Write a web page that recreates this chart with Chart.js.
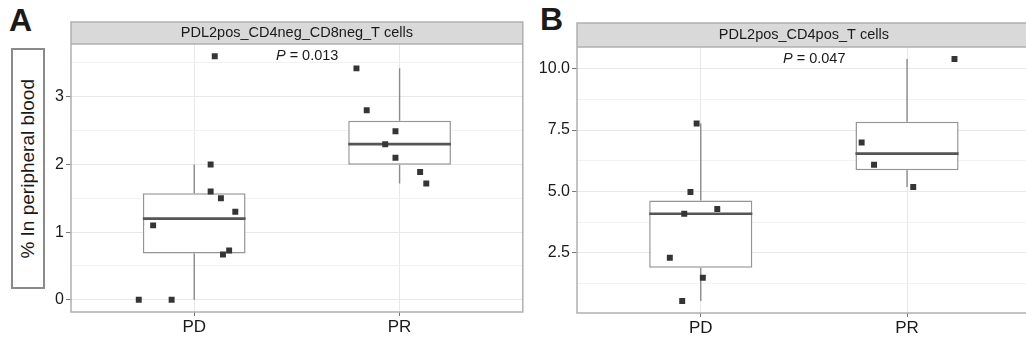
<!DOCTYPE html>
<html>
<head>
<meta charset="utf-8">
<script src="https://cdn.jsdelivr.net/npm/chart.js@4"></script>
<style>
  body { margin: 0; width: 1026px; height: 343px; overflow: hidden; background: #fff; position: relative; font-family: "Liberation Sans", Arial, sans-serif; }
  canvas { position: absolute; top: 0; }
  .tag { position: absolute; font-weight: bold; font-size: 32px; color: #1a1a1a; line-height: 1; }
  .ylab { position: absolute; left: 11px; top: 48px; width: 34px; height: 241px; box-sizing: border-box;
          border: 2px solid #8a8a8a; display: flex; align-items: center; justify-content: center; }
  .ylab span { writing-mode: vertical-rl; transform: rotate(180deg); font-size: 19px; color: #1a1a1a; white-space: nowrap; }
</style>
</head>
<body>
<div class="tag" style="left:9px;top:4px">A</div>
<div class="tag" style="left:540px;top:3px">B</div>
<div class="ylab"><span>% In peripheral blood</span></div>
<canvas id="chartA" width="481" height="343" style="left:46px"></canvas>
<canvas id="chartB" width="497" height="343" style="left:538px"></canvas>
<script>
// groups on the x axis
const groups = ["PD", "PR"]

// panel A: PDL2pos_CD4neg_CD8neg_T cells
const aTitle = "PDL2pos_CD4neg_CD8neg_T cells"
const aPValue = "0.013"
const aPD = [0.0, 0.0, 3.6, 2.0, 1.6, 1.5, 1.3, 1.1, 0.73, 0.67]
const aPDJitter = [-0.27, -0.11, 0.10, 0.08, 0.08, 0.13, 0.20, -0.20, 0.17, 0.14]
const aPR = [3.42, 2.80, 2.49, 2.30, 2.10, 1.89, 1.72]
const aPRJitter = [-0.21, -0.16, -0.02, -0.07, -0.02, 0.10, 0.13]
const aYTicks = [0, 1, 2, 3]
const aYLabels = ["0", "1", "2", "3"]

// panel B: PDL2pos_CD4pos_T cells
const bTitle = "PDL2pos_CD4pos_T cells"
const bPValue = "0.047"
const bPD = [7.77, 4.98, 4.09, 4.28, 2.30, 1.48, 0.54]
const bPDJitter = [-0.02, -0.05, -0.08, 0.08, -0.15, 0.01, -0.09]
const bPR = [10.39, 6.99, 6.09, 5.18]
const bPRJitter = [0.23, -0.22, -0.16, 0.03]
const bYTicks = [2.5, 5.0, 7.5, 10.0]
const bYLabels = ["2.5", "5.0", "7.5", "10.0"]

// ggplot-style quantiles (type 7) and whiskers
function quantile(s, p) {
  const h = (s.length - 1) * p
  const lo = Math.floor(h)
  const next = s[lo + 1] !== undefined ? s[lo + 1] : s[lo]
  return s[lo] + (h - lo) * (next - s[lo])
}
function boxStats(vals) {
  const s = [...vals].sort((a, b) => a - b)
  const q1 = quantile(s, 0.25), med = quantile(s, 0.5), q3 = quantile(s, 0.75)
  const iqr = q3 - q1
  const lo = Math.min(...s.filter(v => v >= q1 - 1.5 * iqr))
  const hi = Math.max(...s.filter(v => v <= q3 + 1.5 * iqr))
  return { q1, med, q3, lo, hi }
}

const panelPlugin = {
  id: "panel",
  beforeDraw(chart, args, opts) {
    const ctx = chart.ctx, a = chart.chartArea, t = chart.titleBlock
    ctx.save()
    ctx.fillStyle = "#d9d9d9"
    ctx.fillRect(a.left, t.top, a.right - a.left, t.bottom - t.top)
    ctx.strokeStyle = "#b0b0b0"
    ctx.lineWidth = 1.5
    ctx.beginPath()
    ctx.moveTo(a.left, t.bottom)
    ctx.lineTo(a.left, t.top)
    ctx.lineTo(a.right, t.top)
    if (opts.rightEdge) ctx.lineTo(a.right, t.bottom)
    ctx.stroke()
    ctx.restore()
  },
  afterDatasetsDraw(chart, args, opts) {
    const ctx = chart.ctx, a = chart.chartArea
    ctx.save()
    ctx.strokeStyle = "#b0b0b0"
    ctx.lineWidth = 1.5
    ctx.beginPath()
    ctx.moveTo(a.left, a.top)
    ctx.lineTo(a.left, a.bottom)
    ctx.lineTo(a.right, a.bottom)
    if (opts.rightEdge) ctx.lineTo(a.right, a.top)
    ctx.moveTo(a.left, a.top)
    ctx.lineTo(a.right, a.top)
    ctx.stroke()
    // p value label
    const x = chart.scales.x.getPixelForValue(opts.px)
    const y = chart.scales.y.getPixelForValue(opts.py)
    ctx.fillStyle = "#1a1a1a"
    ctx.textBaseline = "middle"
    ctx.font = "italic 14.5px 'Liberation Sans'"
    const pw = ctx.measureText("P").width
    ctx.font = "14.5px 'Liberation Sans'"
    const rest = " = " + opts.p
    const total = pw + ctx.measureText(rest).width
    ctx.font = "italic 14.5px 'Liberation Sans'"
    ctx.fillText("P", x - total / 2, y)
    ctx.font = "14.5px 'Liberation Sans'"
    ctx.fillText(rest, x - total / 2 + pw, y)
    ctx.restore()
  }
}

function makeChart(id, title, pValue, series, jitters, yTicks, yLabels, axisWidth, axisHeight, stripTop, stripPad, rightPad, rightEdge) {
  const stats = series.map(boxStats)
  const all = series.flat()
  const dMin = Math.min(...all), dMax = Math.max(...all)
  const span = dMax - dMin

  const points = series.map((vals, g) => vals.map((v, i) => ({ x: g + 1 + jitters[g][i], y: v }))).flat()
  const medians = [], whiskers = []
  stats.forEach((s, g) => {
    const x = g + 1
    medians.push({ x: x - 0.25, y: s.med }, { x: x + 0.25, y: s.med }, { x: x + 0.5, y: null })
    whiskers.push({ x: x, y: s.lo }, { x: x, y: s.q1 }, { x: x, y: null },
                  { x: x, y: s.q3 }, { x: x, y: s.hi }, { x: x + 0.5, y: null })
  })
  const boxes = stats.map((s, g) => ({ x: g + 1, y: [s.q1, s.q3] }))

  const minors = yTicks.slice(0, -1).map((v, i) => (v + yTicks[i + 1]) / 2)
  const step = yTicks[1] - yTicks[0]
  minors.unshift(yTicks[0] - step / 2)
  minors.push(yTicks[yTicks.length - 1] + step / 2)
  const yMin = dMin - 0.05 * span, yMax = dMax + 0.05 * span
  const allTicks = yTicks.concat(minors).filter(v => v >= yMin && v <= yMax).sort((a, b) => a - b)

  return new Chart(document.getElementById(id), {
    type: "scatter",
    data: {
      datasets: [
        { data: points, pointStyle: "rect", pointRadius: 4.2, pointBackgroundColor: "#353535",
          pointBorderWidth: 0, showLine: false },
        { data: medians, showLine: true, pointRadius: 0, borderColor: "#555", borderWidth: 2.6, spanGaps: false },
        { type: "bar", data: boxes, backgroundColor: "#fff", borderColor: "#959595", borderWidth: 1.5,
          borderSkipped: false, categoryPercentage: 1, barPercentage: 0.5 },
        { data: whiskers, showLine: true, pointRadius: 0, borderColor: "#8a8a8a", borderWidth: 1.4, spanGaps: false }
      ]
    },
    options: {
      responsive: false,
      animation: false,
      layout: { padding: { top: stripTop, right: rightPad, left: 0, bottom: 0 } },
      plugins: {
        legend: { display: false },
        tooltip: { enabled: false },
        title: { display: true, text: title, fullSize: false, color: "#1a1a1a",
                 font: { family: "'Liberation Sans'", size: 14.5, weight: "normal", lineHeight: "16px" },
                 padding: { top: stripPad, bottom: stripPad } },
        panel: { p: pValue, px: 1.55, py: dMax, rightEdge: rightEdge }
      },
      scales: {
        x: {
          type: "linear", min: 0.4, max: 2.6, offset: false,
          afterBuildTicks: s => { s.ticks = groups.map((g, i) => ({ value: i + 1 })) },
          afterFit: s => { s.height = axisHeight },
          ticks: { callback: v => groups[v - 1], color: "#1a1a1a", padding: 1, autoSkip: false,
                   font: { family: "'Liberation Sans'", size: 17 } },
          grid: { color: "#e8e8e8", lineWidth: 1, tickLength: 4, tickColor: "#777", offset: false },
          border: { display: false }
        },
        y: {
          min: yMin, max: yMax,
          afterBuildTicks: s => { s.ticks = allTicks.map(v => ({ value: v })) },
          afterFit: s => { s.width = axisWidth },
          ticks: { autoSkip: false, color: "#1a1a1a", padding: 2,
                   font: { family: "'Liberation Sans'", size: 16 },
                   callback: v => { const i = yTicks.indexOf(v); return i >= 0 ? yLabels[i] : "" } },
          grid: {
            color: c => yTicks.includes(c.tick.value) ? "#e8e8e8" : "#f2f2f2",
            tickColor: c => yTicks.includes(c.tick.value) ? "#777" : "rgba(0,0,0,0)",
            tickLength: 5, lineWidth: 1
          },
          border: { display: false }
        }
      }
    },
    plugins: [panelPlugin]
  })
}

makeChart("chartA", aTitle, aPValue, [aPD, aPR], [aPDJitter, aPRJitter], aYTicks, aYLabels, 25, 31, 22, 3, 2, true)
makeChart("chartB", bTitle, bPValue, [bPD, bPR], [bPDJitter, bPRJitter], bYTicks, bYLabels, 39, 30, 23, 4, 0, false)
</script>
</body>
</html>
